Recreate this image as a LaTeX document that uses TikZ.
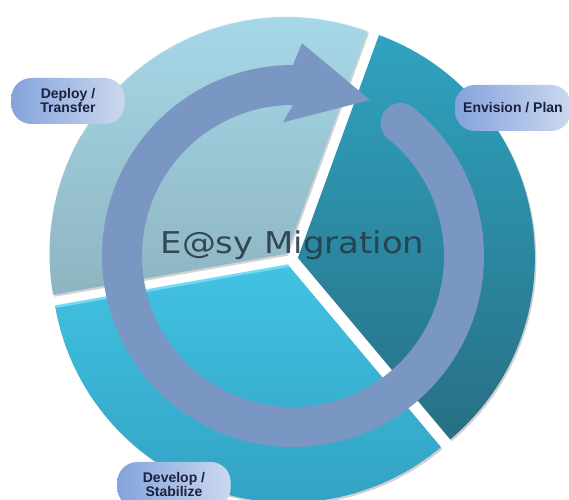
\documentclass[tikz,border=0pt]{standalone}
\usepackage{fontspec}
\usepackage{graphicx}
\newfontfamily\pillfont{Liberation Sans}
\newfontfamily\titlefont{DejaVu Sans}
\usetikzlibrary{calc}

\definecolor{deployTop}{HTML}{A9DCEC}
\definecolor{deployBot}{HTML}{8EB4C1}
\definecolor{envTop}{HTML}{30A3C0}
\definecolor{envBot}{HTML}{276F84}
\definecolor{devTop}{HTML}{42C2E3}
\definecolor{devBot}{HTML}{31A0C0}
\definecolor{devHi}{HTML}{74D9F3}
\definecolor{ringBlue}{HTML}{7A96C3}
\definecolor{pillDark}{HTML}{84A3DC}
\definecolor{pillLight}{HTML}{CCD8EF}
\definecolor{labelText}{HTML}{1B2240}
\definecolor{titleText}{HTML}{283C4A}

\tikzset{
  pill/.style={rectangle, rounded corners=15pt, minimum width=85pt, minimum height=34.5pt,
    left color=pillDark, right color=pillLight, align=center, text=labelText, inner sep=2pt,
    font=\pillfont\bfseries\fontsize{10.5}{10.5}\selectfont},
  slice shadow/.style={fill=black, opacity=0.18},
}

\begin{document}
\begin{tikzpicture}[x=0.75pt, y=0.75pt]

% Page
\fill[white] (0,0) rectangle (569,500);
\clip (0,0) rectangle (569,500);

% Define dimensions
\def\R{237}    % radius of the pie
\def\g{7}      % how far each slice is pulled out
\def\rr{171}   % radius of the round arrow

% Centres
\coordinate (C) at (291,241);
\coordinate (O) at (293,244);

% Slice tips, pulled out along their middle line
\coordinate (envc) at ($(C)+(10:\g)$);
\coordinate (depc) at ($(C)+(130:\g)$);
\coordinate (devc) at ($(C)+(250:\g)$);

% Shadows under the slices
\fill[slice shadow] ($(envc)+(1.5,-2)$) -- +(-50:\R) arc[start angle=-50, end angle=70, radius=\R] -- cycle;
\fill[slice shadow] ($(depc)+(1.5,-2)$) -- +(70:\R) arc[start angle=70, end angle=190, radius=\R] -- cycle;
\fill[slice shadow] ($(devc)+(1.5,-2)$) -- +(190:\R) arc[start angle=190, end angle=310, radius=\R] -- cycle;

% Envision / Plan slice
\shade[top color=envTop, bottom color=envBot] (envc) -- +(-50:\R) arc[start angle=-50, end angle=70, radius=\R] -- cycle;

% Deploy / Transfer slice
\shade[top color=deployTop, bottom color=deployBot] (depc) -- +(70:\R) arc[start angle=70, end angle=190, radius=\R] -- cycle;
\draw[white, opacity=0.6, line width=0.8pt] ($(depc)+(70:\R)$) arc[start angle=70, end angle=150, radius=\R];

% Develop / Stabilize slice
\shade[top color=devTop, bottom color=devBot] (devc) -- +(190:\R) arc[start angle=190, end angle=310, radius=\R] -- cycle;
\draw[devHi, line width=2pt] ($(devc)+(190:\R)$) -- (devc);

% Round arrow
\draw[ringBlue, line width=30pt, line cap=round] ($(O)+(51:\rr)$) arc[start angle=51, end angle=-270, radius=\rr];
\fill[ringBlue] ($(O)+(90:191)$) -- ($(O)+(87.6:213)$) -- ($(O)+(63.7:174)$)
  -- ($(O)+(94.3:134)$) -- ($(O)+(90:151)$) -- cycle;

% Title
\node[anchor=base, text=titleText, opacity=0.9, inner sep=0pt,
  font=\titlefont\fontsize{22.5}{27}\selectfont] (title) at (292.5,246) {\scalebox{1.13}[1]{E@sy Migration}};

% Labels
\node[pill] (deploy) at (68,399) {Deploy /\\Transfer};
\node[pill, minimum width=87pt] (envision) at (513,392) {Envision / Plan};
\node[pill] (develop) at (174,15) {Develop /\\Stabilize};

\end{tikzpicture}
\end{document}
